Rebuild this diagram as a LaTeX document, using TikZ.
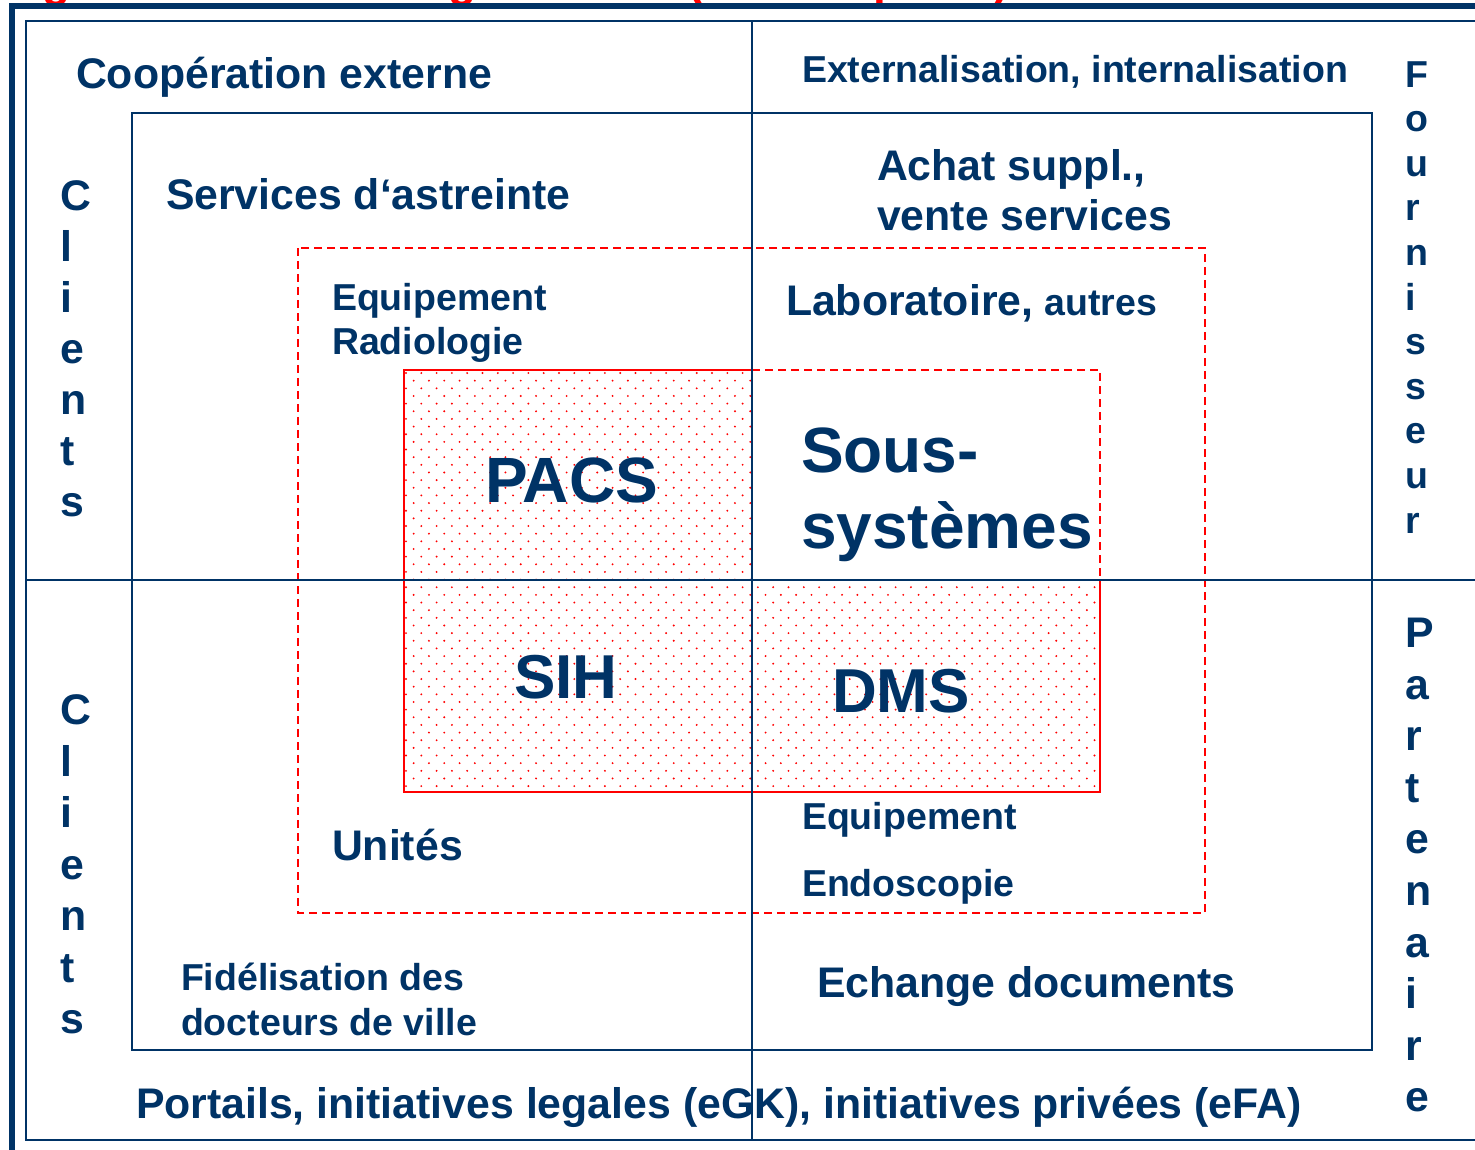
\documentclass[tikz,border=0pt]{standalone}
\usepackage{fontspec}
\setmainfont{Liberation Sans}
\definecolor{navy}{RGB}{0,51,102}
\begin{document}
\begin{tikzpicture}[x=1pt,y=-1pt,
  lbl/.style={anchor=base west, inner sep=0pt, outer sep=0pt, text=navy, font=\bfseries\fontsize{42.8}{50}\selectfont},
  lbls/.style={lbl, font=\bfseries\fontsize{37.5}{44}\selectfont},
  big/.style={lbl, font=\bfseries\fontsize{64}{73}\selectfont},
  mid/.style={lbl, font=\bfseries\fontsize{62}{70}\selectfont},
  thickframe/.style={draw=navy, line width=6pt},
  thinframe/.style={draw=navy, line width=2pt},
  axisline/.style={draw=navy, line width=2.5pt},
  reddash/.style={draw=red, line width=1.6pt, dash pattern=on 8pt off 5pt},
  redsolid/.style={draw=red, line width=1.8pt},
  redtitle/.style={anchor=base west, inner sep=0pt, text=red, font=\bfseries\fontsize{46}{50}\selectfont}]
\useasboundingbox (0,0) rectangle (1475,1149);
\clip (0,0) rectangle (1475,1149);

% cut-off red title (only descenders visible)
\node[redtitle] (t1) at (42,-4) {g};
\node[redtitle] (t2) at (448,-4) {g};
\node[redtitle] (t3) at (688,-4) {(};
\node[redtitle] (t4) at (873,-4) {p};
\node[redtitle] (t5) at (993,-4) {)};

% outer frames
\draw[thickframe] (11.5,1160) -- (11.5,6) -- (1490,6);
\draw[thinframe] (1490,21) -- (26,21) -- (26,1140) -- (1490,1140);

% dotted fill
\begin{scope}
  \clip (404,370) -- (752,370) -- (752,580) -- (1100,580) -- (1100,792) -- (404,792) -- cycle;
  \foreach \j in {0,...,56} {
    \pgfmathsetmacro\yy{373+\j*7.65}
    \pgfmathsetmacro\off{mod(\j,2)*7.65}
    \foreach \i in {0,...,46} {
      \fill[red] ({406+\off+\i*15.3},\yy) circle (1.05pt);
    }
  }
\end{scope}

% red rectangles
\draw[reddash] (298,248) rectangle (1205,913);
\draw[redsolid] (752,370) -- (404,370) -- (404,792) -- (1100,792) -- (1100,580);
\draw[reddash] (752,370) -- (1100,370) -- (1100,580);

% inner navy rectangle
\draw[thinframe] (132,113) rectangle (1372,1050);

% axes
\draw[axisline] (26,580) -- (1490,580);
\draw[axisline] (752,21) -- (752,1140);

% labels
\node[lbl] (coop) at (76,88) {Coopération externe};
\node[lbls] (extern) at (802,82) {Externalisation, internalisation};
\node[lbl] (astreinte) at (166,209) {Services d‘astreinte};
\node[lbl] (achat) at (877,180) {Achat suppl.,};
\node[lbl] (vente) at (877,230) {vente services};
\node[lbls] (equip1) at (332,310) {Equipement};
\node[lbls] (radio) at (332,354) {Radiologie};
\node[lbl] (labo) at (786,315) {Laboratoire,};
\node[lbls, anchor=base west] (autres) at ([xshift=11pt]labo.base east) {autres};
\node[big] (pacs) at (485,502) {PACS};
\node[big] (sous) at (801,472) {Sous-};
\node[big] (syst) at (801,548) {systèmes};
\node[mid] (sih) at (514,698) {SIH};
\node[mid] (dms) at (832,712) {DMS};
\node[lbl] (unites) at (332,860) {Unités};
\node[lbls] (equip2) at (802,829) {Equipement};
\node[lbls] (endo) at (802,896) {Endoscopie};
\node[lbls] (fid) at (181,990) {Fidélisation des};
\node[lbls] (doc) at (181,1035) {docteurs de ville};
\node[lbl] (echange) at (817,997) {Echange documents};
\node[lbl] (portails) at (136,1118) {Portails, initiatives legales (eGK), initiatives privées (eFA)};

% vertical words
\foreach \c [count=\k from 0] in {C,l,i,e,n,t,s} {
  \node[lbl] (cla\k) at (60,210+51*\k) {\c};
  \node[lbl] (clb\k) at (60,724.5+51.5*\k) {\c};
}
\foreach \c [count=\k from 0] in {F,o,u,r,n,i,s,s,e,u,r} {
  \node[lbls] (four\k) at (1405,87+44.6*\k) {\c};
}
\foreach \c [count=\k from 0] in {P,a,r,t,e,n,a,i,r,e} {
  \node[lbl] (part\k) at (1405,647.5+51.6*\k) {\c};
}
\end{tikzpicture}
\end{document}
